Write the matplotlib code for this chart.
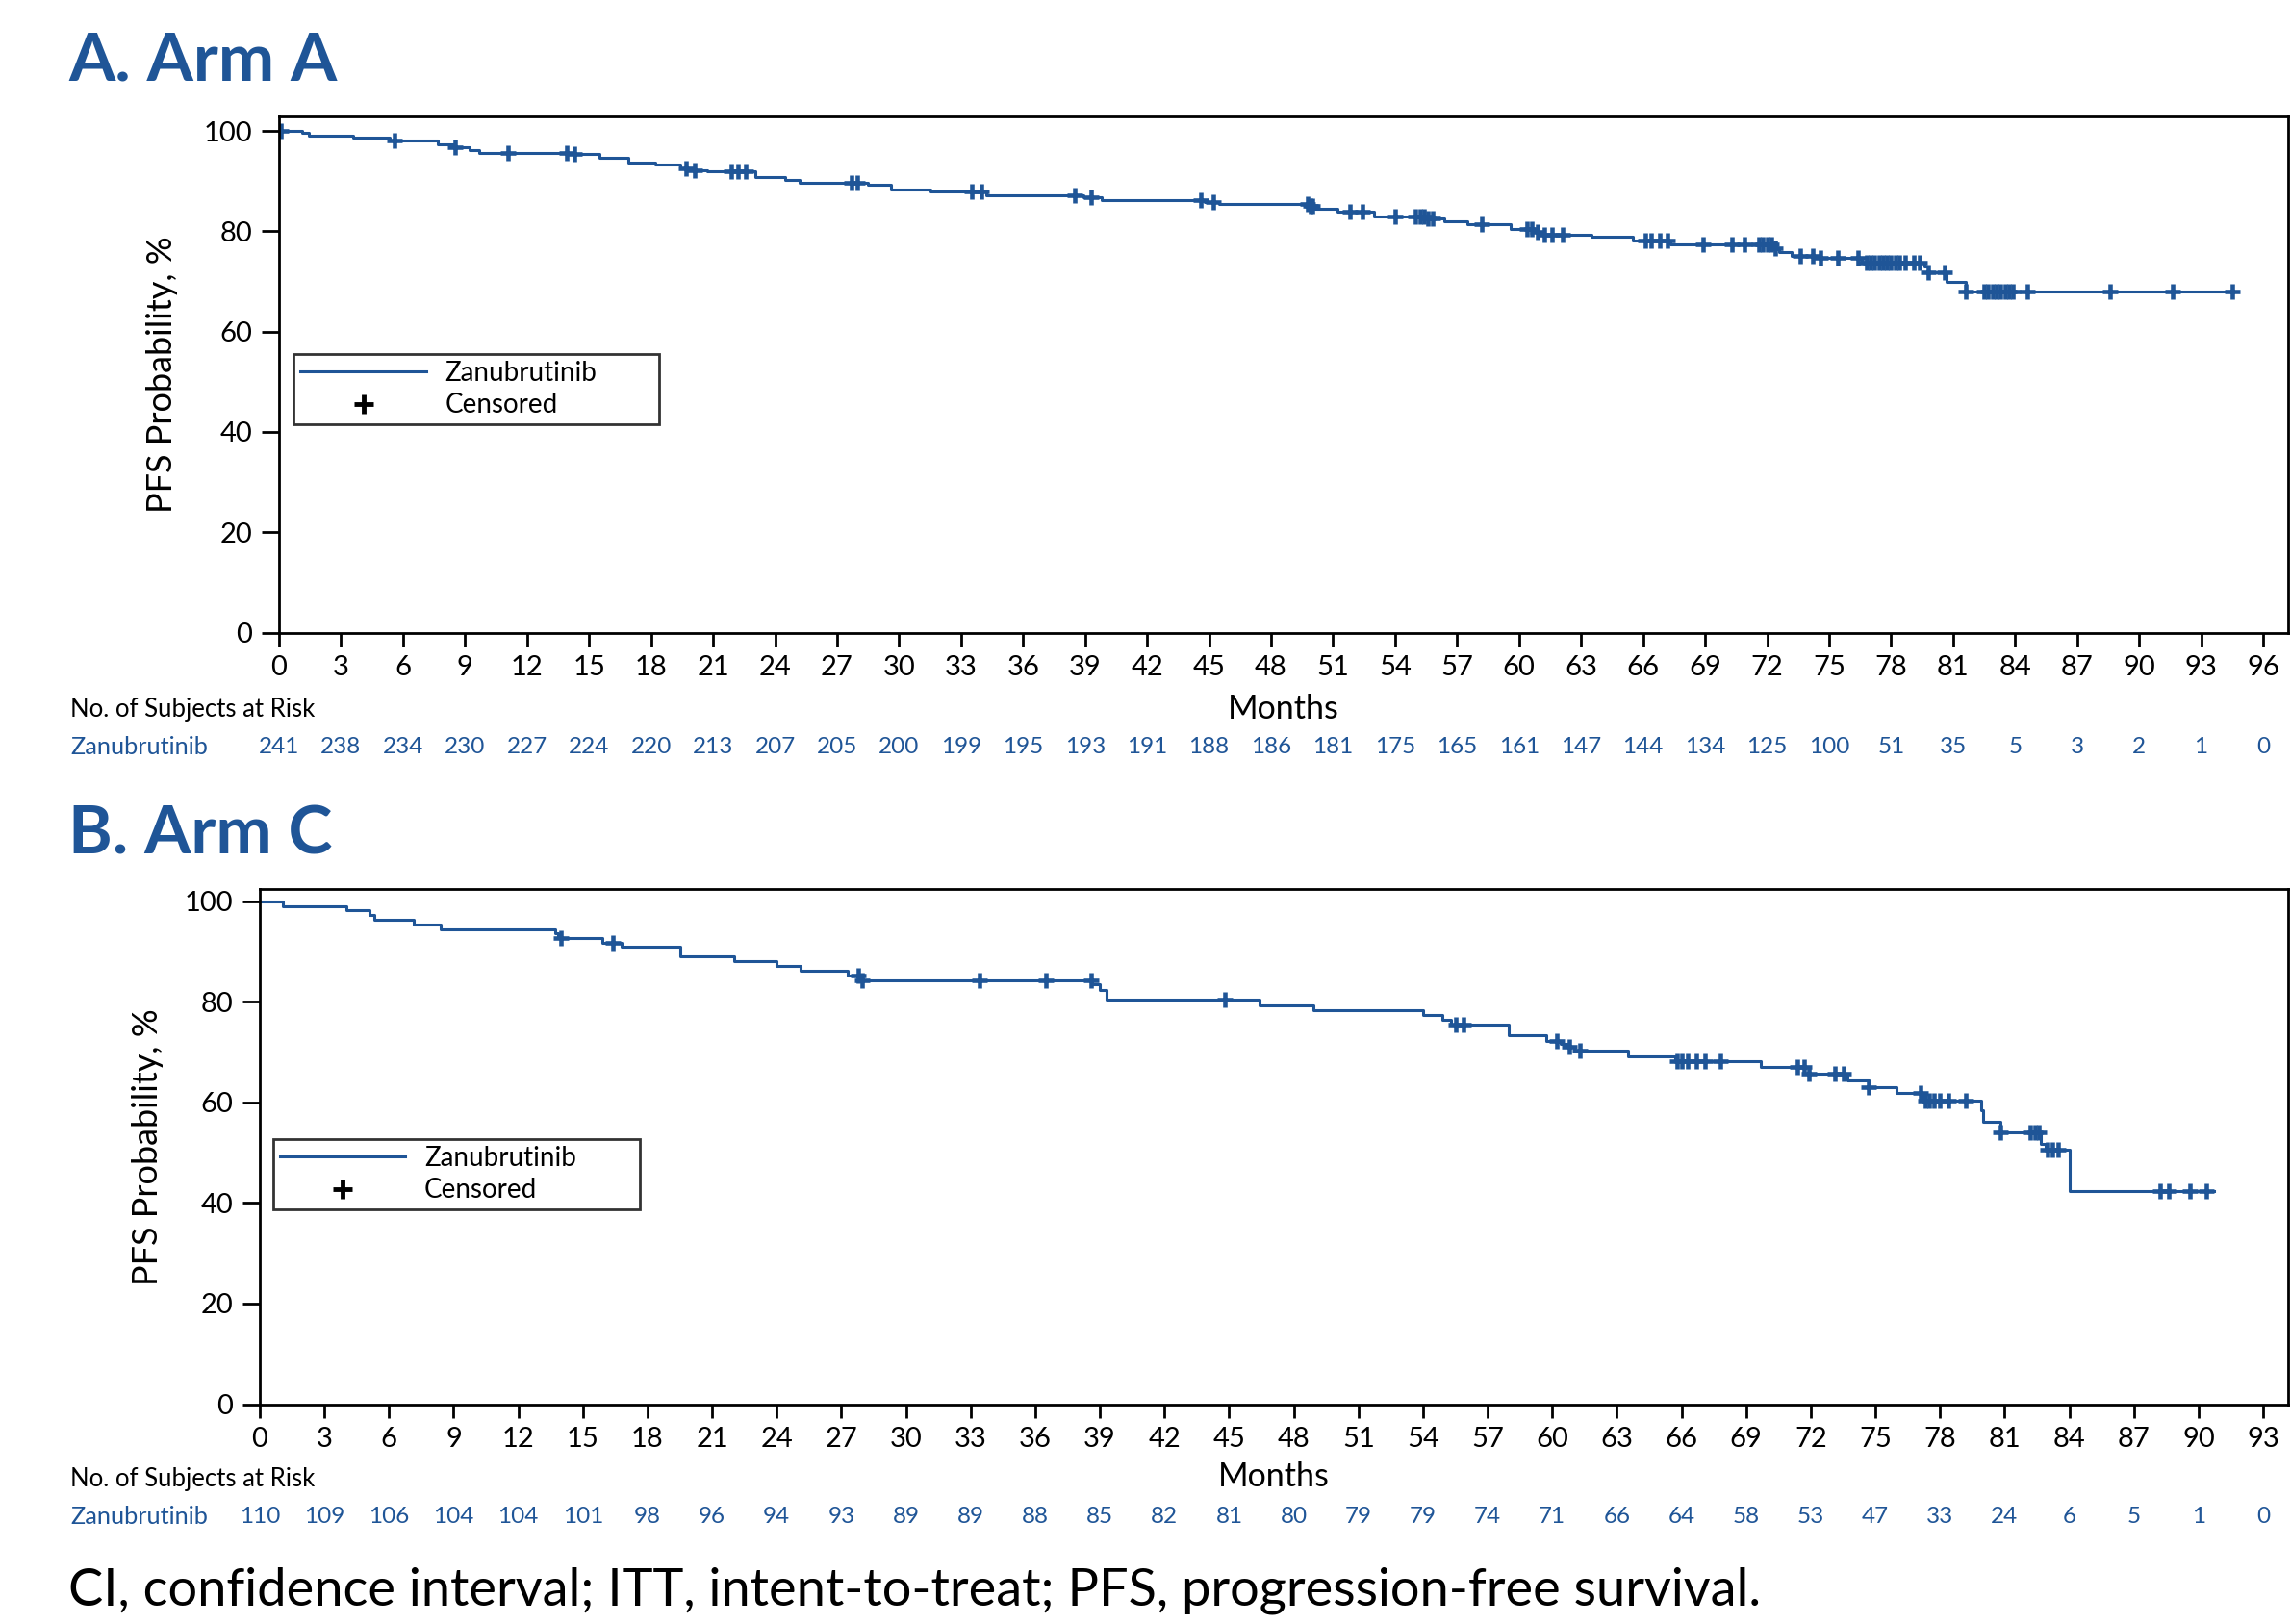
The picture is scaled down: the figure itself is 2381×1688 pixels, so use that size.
import numpy as np
import matplotlib
matplotlib.use("Agg")
import matplotlib.pyplot as plt
from matplotlib.lines import Line2D

# ---- Arm A: KM steps (month, PFS % after the step) ----
a_step_t = [0, 1.1, 1.45, 3.6, 5.35, 7.7, 8.5, 9.2, 9.7, 14.0, 15.5, 16.9, 18.2, 19.4,
            19.9, 20.7, 23.05, 24.5, 25.2, 28.5, 29.6, 31.5, 34.2, 38.9, 39.8, 44.8,
            45.5, 49.9, 50.1, 51.2, 52.96, 55.6, 56.4, 57.5, 59.6, 60.8, 61.2, 63.5,
            65.5, 67.3, 72.3, 72.6, 73.2, 74.5, 76.6, 79.6, 79.8, 80.7, 81.6]
a_step_s = [100, 99.6, 99.1, 98.7, 98.1, 97.3, 96.7, 96.2, 95.7, 95.4, 94.6, 93.7, 93.3, 92.6,
            92.2, 91.9, 90.8, 90.3, 89.7, 89.3, 88.4, 88.0, 87.2, 86.8, 86.2, 85.8,
            85.4, 85.0, 84.5, 84.0, 83.0, 82.6, 82.05, 81.5, 80.5, 79.8, 79.3, 78.9,
            78.1, 77.3, 76.6, 75.8, 75.0, 74.7, 73.7, 73.0, 71.9, 69.9, 68.0]
a_last = 94.5
a_cens = [0.1, 5.6, 8.5, 11.1, 13.9, 14.3, 19.7, 20.1, 21.9, 22.2, 22.6, 27.7, 28.0, 33.5,
          34.0, 38.5, 39.3, 44.6, 45.2, 49.75, 49.9, 50.0, 51.8, 52.4, 54.0, 55.0, 55.2,
          55.4, 55.6, 55.8, 58.2, 60.4, 60.6, 60.9, 61.2, 61.6, 62.1, 66.1, 66.4, 66.8,
          67.2, 68.9, 70.3, 70.9, 71.6, 71.8, 72.0, 72.2, 72.4, 73.6, 74.2, 74.6, 75.4,
          76.4, 76.8, 77.0, 77.2, 77.4, 77.6, 77.8, 78.0, 78.2, 78.4, 78.7, 79.1, 79.4,
          79.8, 80.6, 81.6, 82.5, 82.7, 82.9, 83.1, 83.3, 83.5, 83.7, 83.9, 84.6, 88.6,
          91.6, 94.5]
a_ticks = list(range(0, 97, 3))
a_risk = [241, 238, 234, 230, 227, 224, 220, 213, 207, 205, 200, 199, 195, 193, 191, 188,
          186, 181, 175, 165, 161, 147, 144, 134, 125, 100, 51, 35, 5, 3, 2, 1, 0]

# ---- Arm C ----
b_step_t = [0, 1.05, 4.04, 5.07, 5.3, 7.14, 8.41, 13.7, 13.85, 15.9, 16.8, 19.5, 22.0,
            24.0, 25.1, 27.3, 27.85, 38.65, 39.0, 39.3, 46.4, 48.9, 54.0, 54.9, 55.3,
            57.97, 59.7, 60.4, 60.7, 61.0, 63.5, 65.7, 69.7, 71.9, 73.7, 74.7, 76.0,
            77.2, 79.9, 80.0, 80.8, 82.7, 82.9, 84.0]
b_step_s = [100, 99.05, 98.2, 97.3, 96.4, 95.4, 94.5, 93.6, 92.65, 91.8, 90.9, 89.0, 88.05,
            87.1, 86.2, 85.3, 84.35, 83.5, 82.4, 80.4, 79.4, 78.4, 77.4, 76.5, 75.5,
            73.35, 72.3, 71.6, 71.1, 70.3, 69.2, 68.2, 67.0, 65.7, 64.4, 63.1, 61.8,
            60.4, 58.5, 56.2, 54.1, 51.8, 50.7, 42.3]
b_last = 90.7
b_cens = [13.97, 16.4, 27.8, 27.95, 33.4, 36.5, 38.6, 44.8, 55.5, 55.9, 60.2, 60.8, 61.3,
          65.8, 66.0, 66.3, 66.7, 67.1, 67.8, 71.4, 71.7, 71.9, 73.1, 73.5, 74.7, 77.1,
          77.3, 77.5, 77.7, 78.0, 78.4, 79.2, 80.8, 82.2, 82.4, 82.6, 83.0, 83.2, 83.5,
          88.2, 88.6, 89.6, 90.35]
b_ticks = list(range(0, 94, 3))
b_risk = [110, 109, 106, 104, 104, 101, 98, 96, 94, 93, 89, 89, 88, 85, 82, 81, 80, 79,
          79, 74, 71, 66, 64, 58, 53, 47, 33, 24, 6, 5, 1, 0]

BLUE = "#1f5597"
plt.rcParams["font.family"] = ["Lato", "DejaVu Sans"]

fig = plt.figure(figsize=(23.81, 16.88), dpi=100)


def km_panel(rect, t, s, last, cens, ticks, risk, xmax, ymax, leg_box, ylab_x, rows):
    ax = fig.add_axes(rect)
    ax.step(list(t) + [last], list(s) + [s[-1]], where="post", color=BLUE, lw=2.2)
    idx = np.searchsorted(t, cens, side="right") - 1
    ax.plot(cens, np.asarray(s)[idx], ls="none", marker="+", ms=12, mew=3.3, color=BLUE)

    ax.set_xlim(0, xmax)
    ax.set_ylim(0, ymax)
    ax.set_xticks(ticks)
    ax.set_yticks([0, 20, 40, 60, 80, 100])
    ax.tick_params(axis="both", labelsize=21, width=2, color="black", pad=7)
    ax.tick_params(axis="y", length=13)
    ax.tick_params(axis="x", length=10)
    for sp in ax.spines.values():
        sp.set_linewidth(2)

    ax.set_ylabel("PFS Probability, %", fontsize=26, va="center")
    ax.yaxis.set_label_coords(ylab_x, 0.5)
    ax.set_xlabel("Months", fontsize=24.5, va="center")
    ax.xaxis.set_label_coords(0.5, rows[0])

    handles = [Line2D([], [], color=BLUE, lw=2.2),
               Line2D([], [], ls="none", marker="+", ms=14, mew=3.5, color="black")]
    leg = ax.legend(handles, ["Zanubrutinib", "Censored"], loc="upper left",
                    bbox_to_anchor=leg_box, mode="expand", borderaxespad=0,
                    fontsize=20, frameon=True, fancybox=False, edgecolor="black",
                    handlelength=4.7, handletextpad=0.7, labelspacing=0.27,
                    borderpad=0.25)
    leg.get_frame().set_linewidth(2)

    tr = ax.get_xaxis_transform()
    for x, n in zip(ticks, risk):
        ax.text(x, rows[2], str(n), transform=tr, ha="center", va="center",
                fontsize=17.5, color=BLUE)
    return ax


ax_a = km_panel([290 / 2381, 1 - 657.5 / 1688, 2087.6 / 2381, 536.5 / 1688],
                a_step_t, a_step_s, a_last, a_cens, a_ticks, a_risk, 97.19, 102.9,
                (0.0074, 0.5396, 0.1818, 0.0), -0.058, (-0.1475, -0.150, -0.221))
ax_b = km_panel([270 / 2381, 1 - 1459.5 / 1688, 2107.6 / 2381, 535.2 / 1688],
                b_step_t, b_step_s, b_last, b_cens, b_ticks, b_risk, 94.14, 102.4,
                (0.0066, 0.5148, 0.1808, 0.0), -0.0553, (-0.142, -0.1467, -0.2177))

# titles, at-risk headers, footnote
for y_title, txt in [(1 - 84 / 1688, "A. Arm A"), (1 - 887 / 1688, "B. Arm C")]:
    fig.text(71 / 2381, y_title, txt, fontsize=50, fontweight="bold", color=BLUE,
             va="baseline", ha="left")
for y_head, y_row in [(738, 776), (1538, 1576)]:
    fig.text(73 / 2381, 1 - y_head / 1688, "No. of Subjects at Risk", fontsize=18.5,
             va="center", ha="left")
    fig.text(73 / 2381, 1 - y_row / 1688, "Zanubrutinib", fontsize=18.2, color=BLUE,
             va="center", ha="left")

fig.text(71 / 2381, 1 - 1668 / 1688,
         "CI, confidence interval; ITT, intent-to-treat; PFS, progression-free survival.",
         fontsize=39, va="baseline", ha="left")

fig.savefig("out.png", dpi=100)
